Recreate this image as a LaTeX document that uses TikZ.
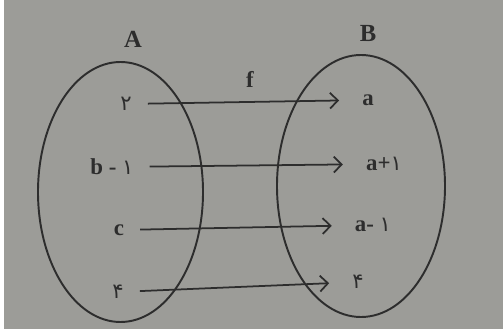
\documentclass[tikz,border=0pt]{standalone}
\usepackage{fontspec}
\setmainfont{Liberation Serif}
\newfontfamily\fadigits{DejaVu Sans}
\usetikzlibrary{positioning, shapes.geometric, arrows.meta}

\newcommand{\fa}[1]{{\fadigits\mdseries\fontsize{12}{14}\selectfont #1}}

\begin{document}
\begin{tikzpicture}[
  x=0.02cm, y=-0.02cm,
  setshape/.style={
    draw=inkcol,
    ellipse,
    line width=1.1pt,
    inner sep=0pt
  },
  elem/.style={
    text=inkcol,
    font=\fontsize{13}{15}\selectfont\bfseries,
    inner sep=3pt
  },
  setname/.style={
    text=inkcol,
    font=\fontsize{14}{16}\selectfont\bfseries
  },
  maparrow/.style={
    draw=inkcol,
    line width=1pt,
    -{Straight Barb[length=4.5pt,width=9pt,line width=1pt]},
    shorten <=6pt,
    shorten >=10pt
  }
]

\definecolor{inkcol}{RGB}{45,45,45}
\definecolor{papercol}{RGB}{156,156,152}

\useasboundingbox (0,0) rectangle (503,331);
\fill[white] (0,0) rectangle (503,331);
\fill[papercol] (4,0) rectangle (503,329);

% the two sets
\node[setshape, minimum width=165*0.02cm, minimum height=260*0.02cm] (setA) at (120.5,192) {};
\node[setshape, minimum width=168*0.02cm, minimum height=262*0.02cm] (setB) at (361,186) {};
\node[setname] (nameA) at (133,39) {A};
\node[setname] (nameB) at (368,33) {B};

% elements of A
\node[elem] (a1) at (126,104) {\fa{۲}};
\node[elem] (a2) at (112,167) {b - \fa{۱}};
\node[elem] (a3) at (119,230) {c};
\node[elem] (a4) at (118,292) {\fa{۴}};

% elements of B
\node[elem] (b1) at (368,100) {a};
\node[elem] (b2) at (384,164) {a+\fa{۱}};
\node[elem] (b3) at (373,225) {a- \fa{۱}};
\node[elem] (b4) at (358,282) {\fa{۴}};

% the mapping
\draw[maparrow] (a1) -- (b1);
\draw[maparrow] (a2) -- (b2);
\draw[maparrow] (a3) -- (b3);
\draw[maparrow] (a4) -- (b4);
\node[elem] (fname) at (250,79) {f};

\end{tikzpicture}
\end{document}
